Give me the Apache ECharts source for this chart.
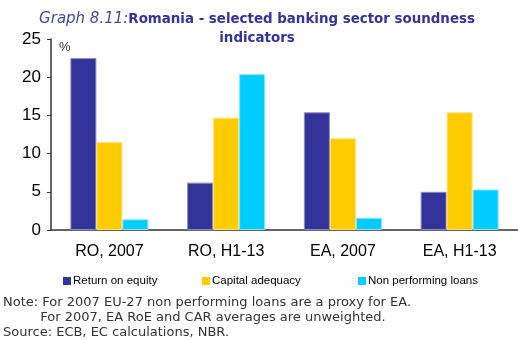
<!DOCTYPE html>
<html>
<head>
<meta charset="utf-8">
<script src="https://cdn.jsdelivr.net/npm/echarts@6/dist/echarts.min.js"></script>
<style>
  html,body{margin:0;padding:0;background:#fff;}
  #chart{width:518px;height:340px;}
</style>
</head>
<body>
<div id="chart"></div>
<script>
// categories and series values
const categories = ['RO, 2007', 'RO, H1-13', 'EA, 2007', 'EA, H1-13']
const returnOnEquity = [22.5, 6.2, 15.4, 5.0]
const capitalAdequacy = [11.5, 14.7, 12.0, 15.4]
const nonPerformingLoans = [1.4, 20.4, 1.6, 5.3]
const yTicks = [0, 5, 10, 15, 20, 25]

const chart = echarts.init(document.getElementById('chart'))

const legendText = { fontFamily: 'Liberation Sans', fontSize: 11.5, color: '#000', padding: [0, 0, 0, -3] }
const legendBase = { top: 275, padding: 0, itemWidth: 8, itemHeight: 8, icon: 'rect',
  itemStyle: { borderWidth: 0 }, textStyle: legendText }

chart.setOption({
  animation: false,
  title: {
    text: '{a|Graph 8.11:}{b|Romania - selected banking sector soundness}\n{b|indicators}',
    left: 252,
    top: 5,
    textAlign: 'center',
    textStyle: {
      align: 'center',
      lineHeight: 19,
      rich: {
        a: { fontFamily: 'DejaVu Sans', fontStyle: 'italic', fontWeight: 'normal', fontSize: 15, color: '#4848a0', lineHeight: 19 },
        b: { fontFamily: 'DejaVu Sans', fontWeight: 'bold', fontSize: 13.4, color: '#333399', lineHeight: 19 }
      }
    }
  },
  // 三个图例分开放，位置与原图对齐
  legend: [
    Object.assign({ data: ['Return on equity'], left: 63 }, legendBase),
    Object.assign({ data: ['Capital adequacy'], left: 202 }, legendBase),
    Object.assign({ data: ['Non performing loans'], left: 358 }, legendBase)
  ],
  grid: { left: 51, top: 39, width: 470, height: 191 },
  xAxis: {
    type: 'category',
    data: categories,
    axisLine: { lineStyle: { color: '#333', width: 1.5 } },
    axisTick: { length: 5, lineStyle: { color: '#333' } },
    axisLabel: { fontFamily: 'Liberation Sans', fontSize: 16, color: '#000', margin: 14 }
  },
  yAxis: {
    type: 'value',
    min: 0,
    max: 25,
    interval: 5,
    splitLine: { show: false },
    axisLine: { show: true, lineStyle: { color: '#333', width: 1.5 } },
    axisTick: { show: true, length: 4, lineStyle: { color: '#333' } },
    axisLabel: {
      fontFamily: 'Liberation Sans', fontSize: 17, color: '#000', margin: 10,
      formatter: v => yTicks.includes(v) ? String(v) : ''
    }
  },
  series: [
    { name: 'Return on equity', type: 'bar', data: returnOnEquity, barWidth: 26, barGap: '0%',
      itemStyle: { color: '#333399', borderColor: '#8a8ac4', borderWidth: 1 } },
    { name: 'Capital adequacy', type: 'bar', data: capitalAdequacy, barWidth: 26, barGap: '0%',
      itemStyle: { color: '#ffcc00', borderColor: '#ffe070', borderWidth: 1 } },
    { name: 'Non performing loans', type: 'bar', data: nonPerformingLoans, barWidth: 26, barGap: '0%',
      itemStyle: { color: '#00ccff', borderColor: '#80e6ff', borderWidth: 1 } }
  ],
  graphic: [
    { type: 'text', left: 59, top: 41, style: { text: '%', fontFamily: 'Liberation Sans', fontSize: 13, fill: '#333' } },
    { type: 'text', left: 3, top: 295, style: {
        text: 'Note: For 2007 EU-27 non performing loans are a proxy for EA.\n         For 2007, EA RoE and CAR averages are unweighted.\nSource: ECB, EC calculations, NBR.',
        fontFamily: 'DejaVu Sans', fontSize: 13, lineHeight: 15, fill: '#333' } }
  ]
})
</script>
</body>
</html>
